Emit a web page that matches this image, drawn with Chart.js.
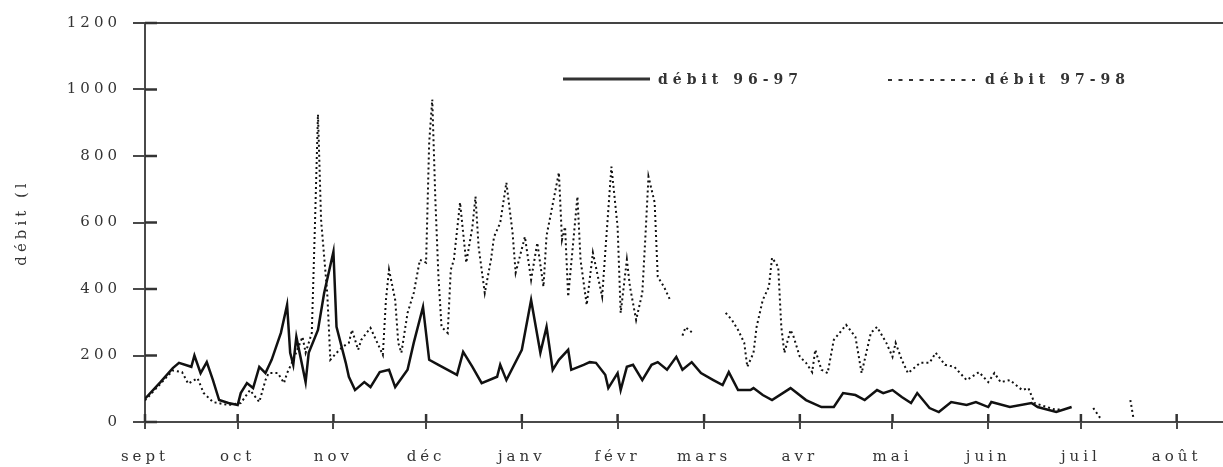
<!DOCTYPE html>
<html>
<head>
<meta charset="utf-8">
<script src="https://cdn.jsdelivr.net/npm/chart.js@4.4.1/dist/chart.umd.min.js"></script>
<style>
  html, body { margin: 0; padding: 0; background: #fff; }
</style>
</head>
<body>
<canvas id="debitChart" width="1223" height="467"></canvas>
<script>
// mois (jours comptés depuis le 1er septembre)
var monthLabels = ['sept', 'oct', 'nov', 'déc', 'janv', 'févr', 'mars', 'avr', 'mai', 'juin', 'juil', 'août'];
var monthStartDays = [0, 30, 61, 91, 122, 153, 181, 212, 242, 273, 303, 334];
var yTicks = [0, 200, 400, 600, 800, 1000, 1200];

// débit 96-97
var days9697 = [0, 5, 9, 11, 15, 16, 18, 20, 22, 24, 27, 30, 31, 33, 35, 37, 39, 41, 44, 46, 47, 48, 49, 52, 53, 56, 58, 61, 62, 65, 66, 68, 71, 73, 76, 79, 81, 85, 87, 90, 92, 95, 101, 103, 106, 109, 114, 115, 117, 122, 125, 128, 130, 132, 134, 137, 138, 142, 144, 146, 149, 150, 153, 154, 156, 158, 161, 164, 166, 169, 172, 174, 177, 180, 184, 187, 189, 192, 196, 197, 200, 203, 209, 214, 219, 223, 226, 230, 233, 237, 239, 242, 245, 248, 250, 254, 257, 261, 266, 269, 273, 274, 280, 287, 289, 295, 300];
var flow9697 = [70, 120, 162, 178, 166, 200, 147, 180, 126, 66, 57, 51, 87, 117, 102, 166, 147, 187, 268, 352, 208, 172, 256, 120, 208, 277, 388, 512, 286, 178, 136, 96, 120, 105, 150, 157, 105, 157, 238, 346, 187, 172, 142, 211, 166, 117, 136, 172, 126, 217, 367, 208, 286, 157, 187, 217, 157, 172, 180, 178, 142, 102, 147, 96, 166, 172, 126, 172, 180, 157, 196, 157, 180, 147, 126, 111, 150, 96, 96, 102, 81, 66, 102, 66, 45, 45, 87, 81, 66, 96, 87, 96, 75, 57, 87, 42, 30, 60, 51, 60, 45, 60, 45, 57, 45, 30, 45];

// débit 97-98 (null = lacune)
var days9798 = [0, 5, 9, 12, 14, 17, 19, 22, 27, 31, 34, 37, 39, 40, 43, 45, 46, 48, 51, 52, 54, 55, 56, 57, 59, 60, 62, 64, 66, 67, 69, 70, 73, 77, 78, 79, 81, 82, 83, 85, 87, 89, 91, 92, 93, 94, 95, 96, 98, 99, 100, 102, 103, 104, 106, 107, 108, 110, 112, 113, 115, 117, 119, 120, 123, 125, 127, 129, 130, 134, 135, 136, 137, 140, 141, 143, 145, 148, 149, 151, 153, 154, 156, 157, 159, 161, 162, 163, 165, 166, 168, 170, 171, 174, 175, 177, 178, 188, 190, 192, 194, 195, 197, 198, 200, 202, 203, 205, 206, 207, 209, 210, 212, 214, 216, 217, 219, 221, 223, 227, 230, 232, 235, 237, 240, 242, 243, 245, 247, 251, 254, 256, 259, 262, 266, 270, 273, 275, 277, 280, 284, 286, 288, 292, 295, 297, 298, 307, 309, 310, 311, 319, 320];
var flow9798 = [65, 115, 155, 150, 115, 132, 87, 60, 51, 57, 96, 60, 126, 147, 147, 117, 147, 187, 256, 208, 268, 587, 925, 608, 388, 187, 208, 226, 238, 277, 217, 247, 283, 202, 367, 458, 367, 238, 208, 328, 388, 488, 479, 840, 970, 669, 437, 286, 268, 458, 488, 660, 569, 479, 587, 678, 527, 388, 488, 557, 599, 720, 569, 449, 557, 428, 539, 407, 560, 750, 548, 587, 377, 678, 488, 352, 509, 377, 509, 768, 587, 328, 488, 407, 307, 388, 557, 738, 660, 437, 407, 367, null, 260, 285, 270, null, 328, 307, 277, 238, 166, 208, 286, 367, 407, 494, 467, 286, 208, 277, 256, 196, 178, 150, 217, 157, 147, 247, 292, 256, 147, 268, 286, 238, 196, 238, 187, 147, 178, 178, 208, 172, 166, 126, 150, 120, 147, 120, 126, 96, 102, 57, 45, 36, 40, null, 42, 15, 9, null, 66, 12];

var serif = "'DejaVu Serif', 'Liberation Serif', serif";
var textColor = '#333';
var lineGrey = '#4a4a4a';

function toPoints(days, flows) {
  return days.map(function (d, i) { return { x: d, y: flows[i] }; });
}

var axisMarks = {
  id: 'axisMarks',
  beforeLayout: function (chart) {
    chart.ctx.letterSpacing = '4px';
  },
  afterDraw: function (chart) {
    var ctx = chart.ctx;
    var a = chart.chartArea;
    var xs = chart.scales.x;
    var ys = chart.scales.y;

    ctx.save();
    // cadre du haut
    ctx.fillStyle = '#444';
    ctx.fillRect(a.left - 12, a.top - 1, chart.width - a.left + 12, 2);

    ctx.strokeStyle = '#333';
    ctx.lineWidth = 2.5;
    // partie intérieure des graduations
    yTicks.forEach(function (v) {
      var y = ys.getPixelForValue(v);
      ctx.beginPath();
      ctx.moveTo(a.left, y);
      ctx.lineTo(a.left + 12, y);
      ctx.stroke();
    });
    monthStartDays.forEach(function (d) {
      var x = xs.getPixelForValue(d);
      ctx.beginPath();
      ctx.moveTo(x, a.bottom - 8);
      ctx.lineTo(x, a.bottom);
      ctx.stroke();
    });

    // légende dans le graphique
    ctx.lineWidth = 3;
    ctx.beginPath();
    ctx.moveTo(a.left + 418, a.top + 56);
    ctx.lineTo(a.left + 505, a.top + 56);
    ctx.stroke();

    ctx.lineWidth = 2;
    ctx.setLineDash([4, 6.5]);
    ctx.beginPath();
    ctx.moveTo(a.left + 743, a.top + 57);
    ctx.lineTo(a.left + 830, a.top + 57);
    ctx.stroke();
    ctx.setLineDash([]);

    ctx.fillStyle = '#333';
    ctx.font = 'bold 14px ' + serif;
    ctx.letterSpacing = '5px';
    ctx.textBaseline = 'middle';
    ctx.textAlign = 'left';
    ctx.fillText(chart.data.datasets[0].label, a.left + 513, a.top + 57);
    ctx.fillText(chart.data.datasets[1].label, a.left + 840, a.top + 57);
    ctx.restore();
  }
};

new Chart(document.getElementById('debitChart'), {
  type: 'line',
  data: {
    datasets: [
      {
        label: 'débit 96-97',
        data: toPoints(days9697, flow9697),
        borderColor: '#111',
        borderWidth: 2.5,
        pointRadius: 0,
        tension: 0,
        spanGaps: false
      },
      {
        label: 'débit 97-98',
        data: toPoints(days9798, flow9798),
        borderColor: '#111',
        borderWidth: 2,
        borderDash: [2, 3],
        pointRadius: 0,
        tension: 0,
        spanGaps: false
      }
    ]
  },
  options: {
    responsive: false,
    animation: false,
    devicePixelRatio: 1,
    layout: { padding: { top: 23, right: 0, bottom: 0, left: 0 } },
    plugins: {
      legend: { display: false },
      tooltip: { enabled: false }
    },
    scales: {
      x: {
        type: 'linear',
        min: 0,
        max: 349,
        afterBuildTicks: function (s) {
          s.ticks = monthStartDays.map(function (d) { return { value: d }; });
        },
        afterFit: function (s) {
          s.height = 45;
          s.paddingLeft = 0;
          s.paddingRight = 0;
        },
        grid: {
          display: true,
          drawOnChartArea: false,
          drawTicks: true,
          tickLength: 7,
          color: lineGrey,
          lineWidth: 2
        },
        border: { display: true, color: lineGrey, width: 2 },
        ticks: {
          autoSkip: false,
          maxRotation: 0,
          padding: 19,
          color: textColor,
          font: { family: serif, size: 15 },
          callback: function (v) { return monthLabels[monthStartDays.indexOf(v)]; }
        }
      },
      // axe du haut sans graduation : sert de cadre supérieur
      xTop: {
        type: 'linear',
        position: 'top',
        min: 0,
        max: 349,
        afterFit: function (s) {
          s.height = 0;
          s.paddingLeft = 0;
          s.paddingRight = 0;
        },
        grid: { display: false, drawTicks: false },
        border: { display: true, color: lineGrey, width: 2 },
        ticks: { display: false }
      },
      y: {
        min: 0,
        max: 1200,
        afterBuildTicks: function (s) {
          s.ticks = yTicks.map(function (v) { return { value: v }; });
        },
        afterFit: function (s) {
          s.width = 145;
          s.paddingTop = 0;
          s.paddingBottom = 0;
        },
        grid: {
          display: true,
          drawOnChartArea: false,
          drawTicks: true,
          tickLength: 12,
          color: lineGrey,
          lineWidth: 2
        },
        border: { display: true, color: lineGrey, width: 2 },
        ticks: {
          padding: 12,
          color: textColor,
          font: { family: serif, size: 15 },
          callback: function (v) { return String(v); }
        },
        title: {
          display: true,
          text: 'débit (l',
          color: textColor,
          padding: { top: 13, bottom: 0 },
          font: { family: serif, size: 15 }
        }
      }
    }
  },
  plugins: [axisMarks]
});
</script>
</body>
</html>
